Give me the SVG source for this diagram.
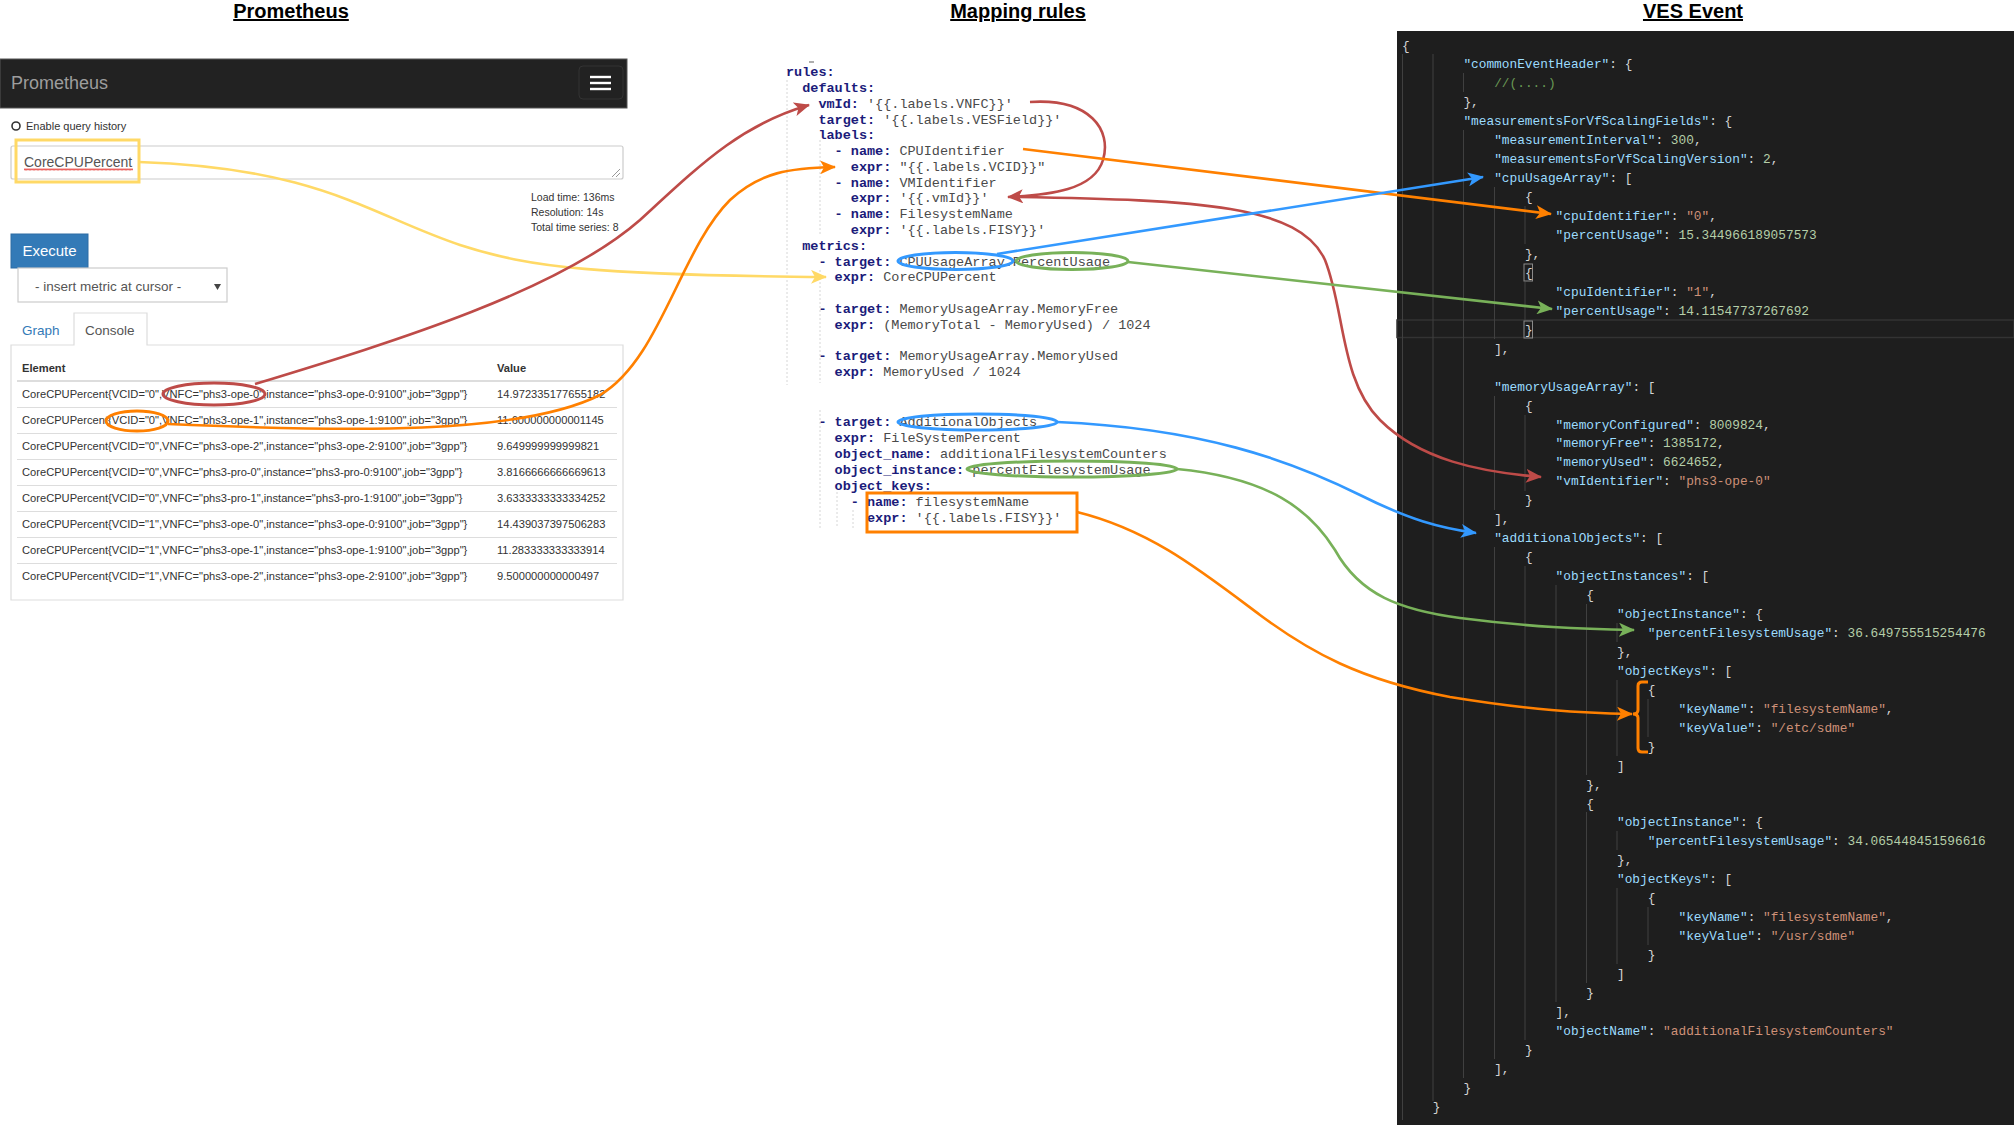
<svg xmlns="http://www.w3.org/2000/svg" width="2014" height="1125" viewBox="0 0 2014 1125">
<style>
.title{font-family:"Liberation Sans",Arial,sans-serif;font-size:20px;font-weight:bold;fill:#000;text-anchor:middle;text-decoration:underline}
.ui{font-family:"Liberation Sans",Arial,sans-serif;fill:#333}
.row{font-family:"Liberation Sans",Arial,sans-serif;font-size:11.15px;fill:#333}
.map{font-family:"Liberation Mono","Courier New",monospace;font-size:13.5px}
.mk{fill:#1b1b7a;font-weight:bold}
.mv{fill:#4a4a4a}
.js{font-family:"Liberation Mono",Consolas,monospace;font-size:12.8px;fill:#D4D4D4}
.k{fill:#9CDCFE}.s{fill:#CE9178}.n{fill:#B5CEA8}.c{fill:#6A9955}
.g{stroke:#404040;stroke-width:1}
.sep{stroke:#dddddd;stroke-width:1}
.dg{stroke:#d6d6d6;stroke-width:1;stroke-dasharray:2 2}
.con{fill:none;stroke-width:2.6}
.red{stroke:#BE4B48}.org{stroke:#FF8000}.blu{stroke:#3399FF}.grn{stroke:#78B159}.yel{stroke:#FFD966}
</style>
<defs>
<marker id="aRed" viewBox="0 0 16 14" refX="15" refY="7" markerWidth="16" markerHeight="14" markerUnits="userSpaceOnUse" orient="auto"><path d="M0,0 L16,7 L0,14 L4,7 z" fill="#BE4B48"/></marker>
<marker id="aOrg" viewBox="0 0 16 14" refX="15" refY="7" markerWidth="16" markerHeight="14" markerUnits="userSpaceOnUse" orient="auto"><path d="M0,0 L16,7 L0,14 L4,7 z" fill="#FF8000"/></marker>
<marker id="aBlu" viewBox="0 0 16 14" refX="15" refY="7" markerWidth="16" markerHeight="14" markerUnits="userSpaceOnUse" orient="auto"><path d="M0,0 L16,7 L0,14 L4,7 z" fill="#3399FF"/></marker>
<marker id="aGrn" viewBox="0 0 16 14" refX="15" refY="7" markerWidth="16" markerHeight="14" markerUnits="userSpaceOnUse" orient="auto"><path d="M0,0 L16,7 L0,14 L4,7 z" fill="#78B159"/></marker>
<marker id="aYel" viewBox="0 0 16 14" refX="15" refY="7" markerWidth="16" markerHeight="14" markerUnits="userSpaceOnUse" orient="auto"><path d="M0,0 L16,7 L0,14 L4,7 z" fill="#FFD966"/></marker>
<pattern id="wavy" width="4" height="3" patternUnits="userSpaceOnUse"><path d="M0,2.5 L1,0.5 L2,2.5 L3,0.5 L4,2.5" fill="none" stroke="#e53935" stroke-width="0.8"/></pattern>
</defs>
<rect width="2014" height="1125" fill="#ffffff"/>

<!-- Titles -->
<text class="title" x="291" y="18">Prometheus</text>
<text class="title" x="1018" y="18">Mapping rules</text>
<text class="title" x="1693" y="18">VES Event</text>

<!-- Prometheus panel -->
<g id="prometheus">
<rect x="0" y="59" width="627" height="49" fill="#222222" stroke="#555" stroke-width="1"/>
<text class="ui" x="11" y="89" font-size="18" style="fill:#9d9d9d">Prometheus</text>
<rect x="579" y="66" width="44" height="33" rx="4" fill="none" stroke="#333" stroke-width="1"/>
<line x1="590" y1="77" x2="611" y2="77" stroke="#fff" stroke-width="2.4"/>
<line x1="590" y1="83" x2="611" y2="83" stroke="#fff" stroke-width="2.4"/>
<line x1="590" y1="89" x2="611" y2="89" stroke="#fff" stroke-width="2.4"/>
<circle cx="16" cy="126" r="4" fill="none" stroke="#333" stroke-width="1.6"/>
<text class="ui" x="26" y="130" font-size="11">Enable query history</text>
<rect x="11" y="146" width="612" height="33" rx="2" fill="#fff" stroke="#cccccc" stroke-width="1.2"/>
<path d="M612,177 L620,169 M616,177 L620,173" stroke="#999" stroke-width="1"/>
<text class="ui" x="24" y="167" font-size="14" style="fill:#555">CoreCPUPercent</text>
<rect x="24" y="168" width="109" height="3" fill="url(#wavy)"/>
<rect x="16" y="140" width="123" height="42" fill="none" stroke="#FFD966" stroke-width="3"/>
<text class="ui" x="531" y="201" font-size="10.5">Load time: 136ms</text>
<text class="ui" x="531" y="216" font-size="10.5">Resolution: 14s</text>
<text class="ui" x="531" y="231" font-size="10.5">Total time series: 8</text>
<rect x="11" y="234" width="77" height="34" fill="#337AB7" stroke="#2e6da4" stroke-width="1"/>
<text class="ui" x="49.5" y="256" font-size="15" text-anchor="middle" style="fill:#fff">Execute</text>
<rect x="18" y="268" width="209" height="34" fill="#fff" stroke="#cccccc" stroke-width="1.2"/>
<text class="ui" x="35" y="291" font-size="13.5" style="fill:#555">- insert metric at cursor -</text>
<polygon points="214,284 221,284 217.5,290" fill="#444"/>
<text class="ui" x="22" y="335" font-size="13.5" style="fill:#337ab7">Graph</text>
<path d="M11,345 L74,345 L74,313 L147,313 L147,345 L623,345 L623,600 L11,600 Z" fill="none" stroke="#dddddd" stroke-width="1.2"/>
<text class="ui" x="85" y="335" font-size="13.5" style="fill:#555">Console</text>
<text class="row" x="22" y="372" font-weight="bold">Element</text>
<text class="row" x="497" y="372" font-weight="bold">Value</text>
<line x1="17" y1="381" x2="617" y2="381" stroke="#dddddd" stroke-width="2"/>
<line class="sep" x1="17" y1="407.5" x2="617" y2="407.5"/>
<line class="sep" x1="17" y1="433.5" x2="617" y2="433.5"/>
<line class="sep" x1="17" y1="459.5" x2="617" y2="459.5"/>
<line class="sep" x1="17" y1="485.5" x2="617" y2="485.5"/>
<line class="sep" x1="17" y1="511.5" x2="617" y2="511.5"/>
<line class="sep" x1="17" y1="537.5" x2="617" y2="537.5"/>
<line class="sep" x1="17" y1="563.5" x2="617" y2="563.5"/>
<text class="row" x="22" y="398.3">CoreCPUPercent{VCID="0",VNFC="phs3-ope-0",instance="phs3-ope-0:9100",job="3gpp"}</text>
<text class="row" x="22" y="424.3">CoreCPUPercent{VCID="0",VNFC="phs3-ope-1",instance="phs3-ope-1:9100",job="3gpp"}</text>
<text class="row" x="22" y="450.3">CoreCPUPercent{VCID="0",VNFC="phs3-ope-2",instance="phs3-ope-2:9100",job="3gpp"}</text>
<text class="row" x="22" y="476.3">CoreCPUPercent{VCID="0",VNFC="phs3-pro-0",instance="phs3-pro-0:9100",job="3gpp"}</text>
<text class="row" x="22" y="502.3">CoreCPUPercent{VCID="0",VNFC="phs3-pro-1",instance="phs3-pro-1:9100",job="3gpp"}</text>
<text class="row" x="22" y="528.3">CoreCPUPercent{VCID="1",VNFC="phs3-ope-0",instance="phs3-ope-0:9100",job="3gpp"}</text>
<text class="row" x="22" y="554.3">CoreCPUPercent{VCID="1",VNFC="phs3-ope-1",instance="phs3-ope-1:9100",job="3gpp"}</text>
<text class="row" x="22" y="580.3">CoreCPUPercent{VCID="1",VNFC="phs3-ope-2",instance="phs3-ope-2:9100",job="3gpp"}</text>
<text class="row" x="497" y="398.3">14.972335177655182</text>
<text class="row" x="497" y="424.3">11.600000000001145</text>
<text class="row" x="497" y="450.3">9.649999999999821</text>
<text class="row" x="497" y="476.3">3.8166666666669613</text>
<text class="row" x="497" y="502.3">3.6333333333334252</text>
<text class="row" x="497" y="528.3">14.439037397506283</text>
<text class="row" x="497" y="554.3">11.283333333333914</text>
<text class="row" x="497" y="580.3">9.500000000000497</text>
<ellipse cx="214" cy="394" rx="51" ry="11" fill="none" stroke="#BE4B48" stroke-width="3"/>
<ellipse cx="137" cy="421" rx="31" ry="10" fill="none" stroke="#FF8000" stroke-width="3"/>
</g>

<!-- Mapping rules -->
<g id="mapping-rules" class="map">
<line x1="809" y1="62" x2="814" y2="62" stroke="#777" stroke-width="1.2"/>
<line class="dg" x1="787" y1="80" x2="787" y2="385"/>
<line class="dg" x1="820" y1="140" x2="820" y2="236"/>
<line class="dg" x1="820" y1="270" x2="820" y2="383"/>
<line class="dg" x1="820" y1="410" x2="820" y2="528"/>
<line class="dg" x1="837" y1="492" x2="837" y2="528"/>
<line class="dg" x1="853" y1="510" x2="853" y2="528"/>
<text x="786" y="76.2"><tspan class="mk">rules:</tspan></text>
<text x="802.2" y="92"><tspan class="mk">defaults:</tspan></text>
<text x="818.4" y="107.7"><tspan class="mk">vmId:</tspan><tspan class="mv"> '{{.labels.VNFC}}'</tspan></text>
<text x="818.4" y="123.5"><tspan class="mk">target:</tspan><tspan class="mv"> '{{.labels.VESField}}'</tspan></text>
<text x="818.4" y="139.3"><tspan class="mk">labels:</tspan></text>
<text x="834.6" y="155.1"><tspan class="mk">- name:</tspan><tspan class="mv"> CPUIdentifier</tspan></text>
<text x="850.8" y="170.8"><tspan class="mk">expr:</tspan><tspan class="mv"> "{{.labels.VCID}}"</tspan></text>
<text x="834.6" y="186.6"><tspan class="mk">- name:</tspan><tspan class="mv"> VMIdentifier</tspan></text>
<text x="850.8" y="202.4"><tspan class="mk">expr:</tspan><tspan class="mv"> '{{.vmId}}'</tspan></text>
<text x="834.6" y="218.1"><tspan class="mk">- name:</tspan><tspan class="mv"> FilesystemName</tspan></text>
<text x="850.8" y="233.9"><tspan class="mk">expr:</tspan><tspan class="mv"> '{{.labels.FISY}}'</tspan></text>
<text x="802.2" y="249.7"><tspan class="mk">metrics:</tspan></text>
<text x="818.4" y="265.5"><tspan class="mk">- target:</tspan><tspan class="mv"> CPUUsageArray.PercentUsage</tspan></text>
<text x="834.6" y="281.2"><tspan class="mk">expr:</tspan><tspan class="mv"> CoreCPUPercent</tspan></text>
<text x="818.4" y="312.8"><tspan class="mk">- target:</tspan><tspan class="mv"> MemoryUsageArray.MemoryFree</tspan></text>
<text x="834.6" y="328.5"><tspan class="mk">expr:</tspan><tspan class="mv"> (MemoryTotal - MemoryUsed) / 1024</tspan></text>
<text x="818.4" y="360.1"><tspan class="mk">- target:</tspan><tspan class="mv"> MemoryUsageArray.MemoryUsed</tspan></text>
<text x="834.6" y="375.9"><tspan class="mk">expr:</tspan><tspan class="mv"> MemoryUsed / 1024</tspan></text>
<text x="818.4" y="426.2"><tspan class="mk">- target:</tspan><tspan class="mv"> AdditionalObjects</tspan></text>
<text x="834.6" y="442.2"><tspan class="mk">expr:</tspan><tspan class="mv"> FileSystemPercent</tspan></text>
<text x="834.6" y="458"><tspan class="mk">object_name:</tspan><tspan class="mv"> additionalFilesystemCounters</tspan></text>
<text x="834.6" y="474"><tspan class="mk">object_instance:</tspan><tspan class="mv"> percentFilesystemUsage</tspan></text>
<text x="834.6" y="490"><tspan class="mk">object_keys:</tspan></text>
<text x="850.8" y="506"><tspan class="mk">- name:</tspan><tspan class="mv"> filesystemName</tspan></text>
<text x="867" y="522"><tspan class="mk">expr:</tspan><tspan class="mv"> '{{.labels.FISY}}'</tspan></text>
<ellipse cx="955.5" cy="261" rx="57.5" ry="8.5" fill="none" stroke="#3399FF" stroke-width="3"/>
<ellipse cx="1072" cy="261" rx="56" ry="8.5" fill="none" stroke="#78B159" stroke-width="3"/>
<ellipse cx="977.5" cy="422" rx="79.5" ry="8" fill="none" stroke="#3399FF" stroke-width="3"/>
<ellipse cx="1072" cy="469" rx="105" ry="8" fill="none" stroke="#78B159" stroke-width="3"/>
<rect x="867" y="493" width="210" height="39" fill="none" stroke="#FF8000" stroke-width="3"/>
</g>

<!-- VES Event -->
<g id="ves-event" class="js">
<rect x="1397" y="31" width="617" height="1094" fill="#1E1E1E"/>
<rect x="1397" y="320" width="617" height="17.5" fill="none" stroke="#333333" stroke-width="1.5"/>
<line class="g" x1="1402.5" y1="54" x2="1402.5" y2="1120"/>
<line class="g" x1="1433" y1="54" x2="1433" y2="1101"/>
<line class="g" x1="1463.5" y1="73" x2="1463.5" y2="92"/>
<line class="g" x1="1463.5" y1="130" x2="1463.5" y2="1078"/>
<line class="g" x1="1494.5" y1="187" x2="1494.5" y2="339"/>
<line class="g" x1="1525" y1="206" x2="1525" y2="244"/>
<line class="g" x1="1525" y1="282" x2="1525" y2="320"/>
<line class="g" x1="1494.5" y1="396" x2="1494.5" y2="510"/>
<line class="g" x1="1525" y1="415" x2="1525" y2="491"/>
<line class="g" x1="1494.5" y1="547" x2="1494.5" y2="1059"/>
<line class="g" x1="1525" y1="566" x2="1525" y2="1040"/>
<line class="g" x1="1556" y1="585" x2="1556" y2="1002"/>
<line class="g" x1="1586.5" y1="604" x2="1586.5" y2="775"/>
<line class="g" x1="1617" y1="623" x2="1617" y2="642"/>
<line class="g" x1="1617" y1="680" x2="1617" y2="756"/>
<line class="g" x1="1648" y1="699" x2="1648" y2="737"/>
<line class="g" x1="1586.5" y1="812" x2="1586.5" y2="983"/>
<line class="g" x1="1617" y1="831" x2="1617" y2="850"/>
<line class="g" x1="1617" y1="888" x2="1617" y2="964"/>
<line class="g" x1="1648" y1="907" x2="1648" y2="945"/>
<rect x="1524" y="264" width="8.5" height="17" fill="none" stroke="#8a8a8a" stroke-width="1"/>
<rect x="1524" y="321" width="8.5" height="17" fill="none" stroke="#8a8a8a" stroke-width="1"/>
<text x="1402" y="49.5">{</text>
<text x="1463.4" y="68.45"><tspan class="k">"commonEventHeader"</tspan>: {</text>
<text x="1494.2" y="87.4" class="c">//(....)</text>
<text x="1463.4" y="106.35">},</text>
<text x="1463.4" y="125.3"><tspan class="k">"measurementsForVfScalingFields"</tspan>: {</text>
<text x="1494.2" y="144.25"><tspan class="k">"measurementInterval"</tspan>: <tspan class="n">300</tspan>,</text>
<text x="1494.2" y="163.2"><tspan class="k">"measurementsForVfScalingVersion"</tspan>: <tspan class="n">2</tspan>,</text>
<text x="1494.2" y="182.15"><tspan class="k">"cpuUsageArray"</tspan>: [</text>
<text x="1524.9" y="201.1">{</text>
<text x="1555.6" y="220.05"><tspan class="k">"cpuIdentifier"</tspan>: <tspan class="s">"0"</tspan>,</text>
<text x="1555.6" y="239"><tspan class="k">"percentUsage"</tspan>: <tspan class="n">15.344966189057573</tspan></text>
<text x="1524.9" y="257.95">},</text>
<text x="1524.9" y="276.9">{</text>
<text x="1555.6" y="295.85"><tspan class="k">"cpuIdentifier"</tspan>: <tspan class="s">"1"</tspan>,</text>
<text x="1555.6" y="314.8"><tspan class="k">"percentUsage"</tspan>: <tspan class="n">14.11547737267692</tspan></text>
<text x="1524.9" y="333.75">}</text>
<text x="1494.2" y="352.7">],</text>
<text x="1494.2" y="390.6"><tspan class="k">"memoryUsageArray"</tspan>: [</text>
<text x="1524.9" y="409.55">{</text>
<text x="1555.6" y="428.5"><tspan class="k">"memoryConfigured"</tspan>: <tspan class="n">8009824</tspan>,</text>
<text x="1555.6" y="447.45"><tspan class="k">"memoryFree"</tspan>: <tspan class="n">1385172</tspan>,</text>
<text x="1555.6" y="466.4"><tspan class="k">"memoryUsed"</tspan>: <tspan class="n">6624652</tspan>,</text>
<text x="1555.6" y="485.35"><tspan class="k">"vmIdentifier"</tspan>: <tspan class="s">"phs3-ope-0"</tspan></text>
<text x="1524.9" y="504.3">}</text>
<text x="1494.2" y="523.25">],</text>
<text x="1494.2" y="542.2"><tspan class="k">"additionalObjects"</tspan>: [</text>
<text x="1524.9" y="561.15">{</text>
<text x="1555.6" y="580.1"><tspan class="k">"objectInstances"</tspan>: [</text>
<text x="1586.3" y="599.05">{</text>
<text x="1617" y="618"><tspan class="k">"objectInstance"</tspan>: {</text>
<text x="1647.8" y="636.95"><tspan class="k">"percentFilesystemUsage"</tspan>: <tspan class="n">36.649755515254476</tspan></text>
<text x="1617" y="655.9">},</text>
<text x="1617" y="674.85"><tspan class="k">"objectKeys"</tspan>: [</text>
<text x="1647.8" y="693.8">{</text>
<text x="1678.5" y="712.75"><tspan class="k">"keyName"</tspan>: <tspan class="s">"filesystemName"</tspan>,</text>
<text x="1678.5" y="731.7"><tspan class="k">"keyValue"</tspan>: <tspan class="s">"/etc/sdme"</tspan></text>
<text x="1647.8" y="750.65">}</text>
<text x="1617" y="769.6">]</text>
<text x="1586.3" y="788.55">},</text>
<text x="1586.3" y="807.5">{</text>
<text x="1617" y="826.45"><tspan class="k">"objectInstance"</tspan>: {</text>
<text x="1647.8" y="845.4"><tspan class="k">"percentFilesystemUsage"</tspan>: <tspan class="n">34.065448451596616</tspan></text>
<text x="1617" y="864.35">},</text>
<text x="1617" y="883.3"><tspan class="k">"objectKeys"</tspan>: [</text>
<text x="1647.8" y="902.25">{</text>
<text x="1678.5" y="921.2"><tspan class="k">"keyName"</tspan>: <tspan class="s">"filesystemName"</tspan>,</text>
<text x="1678.5" y="940.15"><tspan class="k">"keyValue"</tspan>: <tspan class="s">"/usr/sdme"</tspan></text>
<text x="1647.8" y="959.1">}</text>
<text x="1617" y="978.05">]</text>
<text x="1586.3" y="997">}</text>
<text x="1555.6" y="1015.95">],</text>
<text x="1555.6" y="1034.9"><tspan class="k">"objectName"</tspan>: <tspan class="s">"additionalFilesystemCounters"</tspan></text>
<text x="1524.9" y="1053.85">}</text>
<text x="1494.2" y="1072.8">],</text>
<text x="1463.4" y="1091.75">}</text>
<text x="1432.7" y="1110.7">}</text>
<path d="M1648,682 L1642,682 Q1638,682 1638,686 L1638,710 Q1638,714 1633,714 Q1638,714 1638,718 L1638,748 Q1638,752 1642,752 L1648,752" fill="none" stroke="#FF8000" stroke-width="3"/>
</g>

<!-- Connectors -->
<g id="connectors">
<path class="con yel" d="M139,162 C320,168 370,215 460,245 C530,268 600,275 826,277" marker-end="url(#aYel)"/>
<path class="con red" d="M255,384 C400,340 560,290 640,220 C700,165 740,125 809,105" marker-end="url(#aRed)"/>
<path class="con org" d="M168,424 C350,432 520,435 600,395 C660,360 680,250 730,200 C760,172 790,168 835,167" marker-end="url(#aOrg)"/>
<path class="con red" d="M1030,102 C1090,98 1112,130 1103,160 C1094,190 1050,195 1008,197" marker-end="url(#aRed)"/>
<path class="con red" d="M1017,197 C1200,200 1300,205 1325,260 C1345,310 1340,380 1380,420 C1420,460 1480,472 1541,477" marker-end="url(#aRed)"/>
<path class="con org" d="M1023,149 L1551,214" marker-end="url(#aOrg)"/>
<path class="con blu" d="M997,254 L1483,177" marker-end="url(#aBlu)"/>
<path class="con grn" d="M1128,262 L1552,309" marker-end="url(#aGrn)"/>
<path class="con blu" d="M1057,422 C1200,428 1290,460 1360,495 C1410,520 1440,528 1476,533" marker-end="url(#aBlu)"/>
<path class="con grn" d="M1177,469 C1270,478 1310,510 1335,550 C1360,595 1400,610 1460,618 C1530,627 1580,629 1634,630" marker-end="url(#aGrn)"/>
<path class="con org" d="M1077,512 C1150,530 1200,570 1260,615 C1310,652 1360,680 1450,697 C1530,710 1580,713 1632,714" marker-end="url(#aOrg)"/>
</g>
</svg>
